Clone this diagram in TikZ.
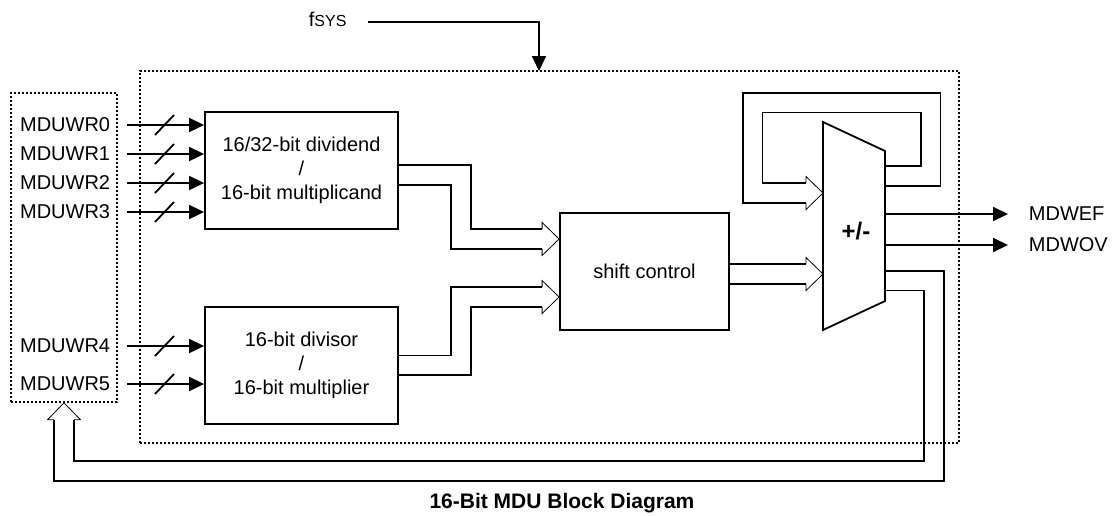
\documentclass[tikz,border=0pt]{standalone}
\usepackage{fontspec}
\setmainfont{Liberation Sans}
\usepackage{tikz}
\usetikzlibrary{arrows.meta,positioning}
\pgfdeclarelayer{background}
\pgfsetlayers{background,main}

\begin{document}
\begin{tikzpicture}[
  x=0.5pt, y=-0.5pt, line width=0.9pt,
  blk/.style={rectangle, draw, minimum width=96.5pt, minimum height=58.5pt, align=center, inner sep=0pt},
  grp/.style={rectangle, draw, dash pattern=on 1pt off 1pt, line width=0.8pt, inner sep=0pt},
  lbl/.style={inner sep=0pt},
  sig/.style={-{Triangle[length=7.5pt,width=7pt]}},
  bus/.style={double=white, double distance=9pt, line width=0.9pt, shorten >=8.5pt},
  bushead/.pic={\draw (-17,-10) -- (-17,-16.5) -- (0,0) -- (-17,16.5) -- (-17,10);}
]
\useasboundingbox (0,0) rectangle (1112,515);

\node[grp, minimum width=409.5pt, minimum height=186pt] (mdu) at (549.5,257) {};
\node[grp, minimum width=53pt, minimum height=154.5pt] (regs) at (64,247.5) {};

\node[blk] (dvd) at (301.5,170.5) {16/32-bit dividend\\/\\16-bit multiplicand};
\node[blk, below=38pt of dvd] (dvs) {16-bit divisor\\/\\16-bit multiplier};
\node[blk, minimum width=84.5pt] (shift) at (644.5,271.5) {shift control};

\draw (823,122) -- (885,151) -- (885,301) -- (823,330) -- cycle;
\node[font=\large\bfseries] (alu) at (856,231) {+/-};
\coordinate (fbOut) at (885,176);
\coordinate (fbIn) at (823,193);
\coordinate (aluIn) at (823,274);
\coordinate (retOut) at (885,280.5);
\coordinate (efOut) at (885,214);
\coordinate (ovOut) at (885,245);
\coordinate (sIn1) at ([yshift=16.25pt]shift.west);
\coordinate (sIn2) at ([yshift=-12.75pt]shift.west);

\node[lbl, anchor=west] (fsys) at (308,19) {f{\footnotesize SYS}};
\coordinate (clk) at (539,71);
\draw[sig] ([xshift=10.5pt,yshift=-1.5pt]fsys.east) -| (clk);

\foreach \i/\yy/\tgt in {0/125/dvd,1/154/dvd,2/183/dvd,3/212/dvd,4/346/dvs,5/384/dvs} {
  \node[lbl, anchor=east] (w\i) at (111,\yy) {MDUWR\i};
  \draw[sig] ([xshift=8pt]w\i.east) -- (w\i -| \tgt.west);
  \draw (155,\yy+10) -- (174,\yy-10);
}

\node[lbl, anchor=west] (mdwef) at (1028,214) {MDWEF};
\node[lbl, anchor=west] (mdwov) at (1028,245) {MDWOV};
\draw[sig] (efOut) -- ([xshift=-10pt]mdwef.west);
\draw[sig] (ovOut) -- ([xshift=-10pt]mdwov.west);

\begin{pgfonlayer}{background}
\draw[bus] ([yshift=-2.25pt]dvd.east) -- ++(62,0) |- (sIn1);
\draw[bus] (dvs.east) -- ++(62,0) |- (sIn2);
\draw[bus] ([yshift=-1.25pt]shift.east) -- (aluIn);
\draw[bus] (fbOut) -| (930.5,102.5) -| (752.5,193) -- (fbIn);
\draw[bus] (retOut) -| (934,471) -| (regs.south);
\end{pgfonlayer}
\pic at (sIn1) {bushead};
\pic at (sIn2) {bushead};
\pic at (aluIn) {bushead};
\pic at (fbIn) {bushead};
\pic[rotate=90] at (regs.south) {bushead};

\node[lbl, font=\fontsize{10.5}{12}\selectfont\bfseries] (cap) at (562,503) {16-Bit MDU Block Diagram};
\end{tikzpicture}
\end{document}
